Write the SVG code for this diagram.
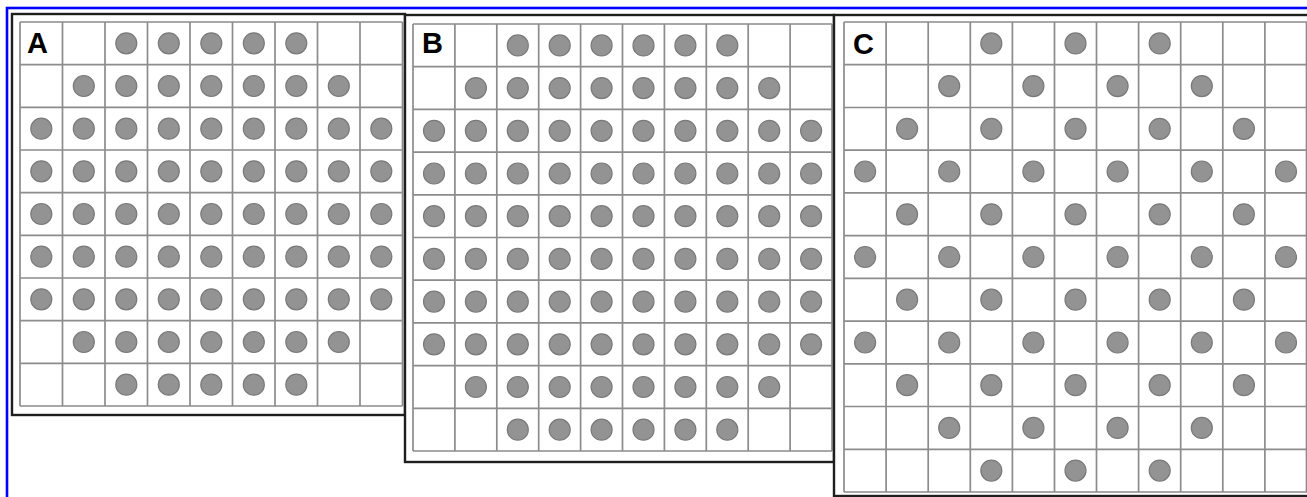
<svg xmlns="http://www.w3.org/2000/svg" xmlns:xlink="http://www.w3.org/1999/xlink" width="1307" height="497" viewBox="0 0 1307 497">
<style>
.frame{fill:#fff;stroke:#1e1e1e;stroke-width:2.4}
.grid{fill:none;stroke:#8c8c8c;stroke-width:1.7}
.dot{fill:#939393;stroke:#7a7a7a;stroke-width:1.2}
.lbl{font-family:"Liberation Sans",Arial,sans-serif;font-weight:bold;font-size:29px;fill:#000}
</style>
<defs>
<g id="a5"><circle class="dot" cx="126.3" r="10.5"/><circle class="dot" cx="168.8" r="10.5"/><circle class="dot" cx="211.3" r="10.5"/><circle class="dot" cx="253.8" r="10.5"/><circle class="dot" cx="296.3" r="10.5"/></g>
<g id="a7"><circle class="dot" cx="83.8" r="10.5"/><use href="#a5"/><circle class="dot" cx="338.8" r="10.5"/></g>
<g id="a9"><circle class="dot" cx="41.3" r="10.5"/><use href="#a7"/><circle class="dot" cx="381.3" r="10.5"/></g>
<g id="b6"><circle class="dot" cx="517.8" r="10.5"/><circle class="dot" cx="559.7" r="10.5"/><circle class="dot" cx="601.6" r="10.5"/><circle class="dot" cx="643.5" r="10.5"/><circle class="dot" cx="685.4" r="10.5"/><circle class="dot" cx="727.3" r="10.5"/></g>
<g id="b8"><circle class="dot" cx="475.9" r="10.5"/><use href="#b6"/><circle class="dot" cx="769.2" r="10.5"/></g>
<g id="b10"><circle class="dot" cx="434" r="10.5"/><use href="#b8"/><circle class="dot" cx="811.1" r="10.5"/></g>
<g id="c3"><circle class="dot" cx="991.3" r="10.5"/><circle class="dot" cx="1075.5" r="10.5"/><circle class="dot" cx="1159.7" r="10.5"/></g>
<g id="c4"><circle class="dot" cx="949.2" r="10.5"/><circle class="dot" cx="1033.4" r="10.5"/><circle class="dot" cx="1117.6" r="10.5"/><circle class="dot" cx="1201.8" r="10.5"/></g>
<g id="c5"><circle class="dot" cx="907.1" r="10.5"/><use href="#c3"/><circle class="dot" cx="1243.9" r="10.5"/></g>
<g id="c6"><circle class="dot" cx="865.1" r="10.5"/><use href="#c4"/><circle class="dot" cx="1286" r="10.5"/></g>
</defs>
<rect x="0" y="0" width="1307" height="497" fill="#fff"/>
<rect x="7" y="8" width="1310" height="500" fill="none" stroke="#0000ff" stroke-width="2.6"/>

<g id="panel-a">
<rect class="frame" x="12" y="14" width="393" height="401"/>
<path class="grid" d="M20 22V406M62.5 22V406M105 22V406M147.5 22V406M190 22V406M232.5 22V406M275 22V406M317.5 22V406M360 22V406M402.5 22V406M20 22H402.5M20 64.7H402.5M20 107.3H402.5M20 150H402.5M20 192.7H402.5M20 235.3H402.5M20 278H402.5M20 320.7H402.5M20 363.3H402.5M20 406H402.5"/>
<text class="lbl" x="27" y="53">A</text>
<use href="#a5" y="43.3"/>
<use href="#a7" y="86"/>
<use href="#a9" y="128.7"/>
<use href="#a9" y="171.3"/>
<use href="#a9" y="214"/>
<use href="#a9" y="256.7"/>
<use href="#a9" y="299.3"/>
<use href="#a7" y="342"/>
<use href="#a5" y="384.7"/>
</g>

<g id="panel-b">
<rect class="frame" x="405" y="15" width="429" height="447"/>
<path class="grid" d="M413 24V451M454.9 24V451M496.8 24V451M538.7 24V451M580.6 24V451M622.5 24V451M664.4 24V451M706.3 24V451M748.2 24V451M790.1 24V451M832 24V451M413 24H832M413 66.7H832M413 109.4H832M413 152.1H832M413 194.8H832M413 237.5H832M413 280.2H832M413 322.9H832M413 365.6H832M413 408.3H832M413 451H832"/>
<text class="lbl" x="422" y="53">B</text>
<use href="#b6" y="45.4"/>
<use href="#b8" y="88.1"/>
<use href="#b10" y="130.8"/>
<use href="#b10" y="173.5"/>
<use href="#b10" y="216.2"/>
<use href="#b10" y="258.9"/>
<use href="#b10" y="301.6"/>
<use href="#b10" y="344.3"/>
<use href="#b8" y="387"/>
<use href="#b6" y="429.7"/>
</g>

<g id="panel-c">
<rect class="frame" x="834" y="15" width="480" height="481"/>
<path class="grid" d="M844 22V492M886.1 22V492M928.2 22V492M970.3 22V492M1012.4 22V492M1054.5 22V492M1096.5 22V492M1138.6 22V492M1180.7 22V492M1222.8 22V492M1264.9 22V492M1306.5 22V492M844 22H1307M844 64.7H1307M844 107.5H1307M844 150.2H1307M844 192.9H1307M844 235.6H1307M844 278.4H1307M844 321.1H1307M844 363.8H1307M844 406.5H1307M844 449.3H1307M844 492H1307"/>
<text class="lbl" x="853" y="54">C</text>
<use href="#c3" y="43.4"/>
<use href="#c4" y="86.1"/>
<use href="#c5" y="128.8"/>
<use href="#c6" y="171.5"/>
<use href="#c5" y="214.3"/>
<use href="#c6" y="257"/>
<use href="#c5" y="299.7"/>
<use href="#c6" y="342.5"/>
<use href="#c5" y="385.2"/>
<use href="#c4" y="427.9"/>
<use href="#c3" y="470.6"/>
</g>
</svg>
